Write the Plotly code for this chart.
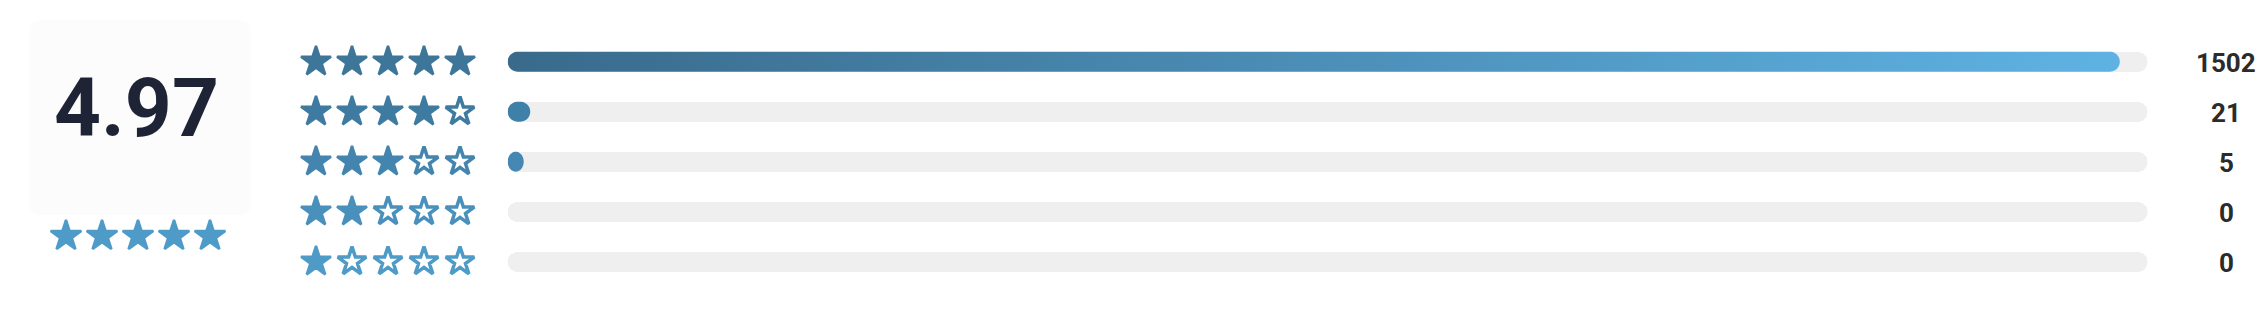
import numpy as np
import plotly.graph_objects as go

# ---------------- data ----------------
ratings = [5, 4, 3, 2, 1]
counts = [1502, 21, 5, 0, 0]
average = 4.97
count_labels = [str(c) for c in counts]

# ---------------- style ----------------
W, H = 2265, 334
TRACK_X0, TRACK_X1 = 507.7, 2147.7
TRACK_PX = TRACK_X1 - TRACK_X0
ROW0_Y, ROW_STEP = 61.7, 50.0
BAR_H = 20.0
BAR_R = 10.0
MIN_FILL_PX = 16.0
STAR_X0, STAR_STEP = 316.0, 36.0
SUM_X0 = 66.0
SUM_Y = 236.0
LABEL_X = 2226.0

star_colors = ['#3e7699', '#3f7ba0', '#4385ae', '#4991bc', '#4f9bc8']
fill_start_colors = ['#396a8b', '#3f80a8', '#4387b2', '#4790bd', '#4d99c6']
fill_end_color = '#5fb4e5'
track_color = '#efefef'
summary_star_color = '#4f9bc8'
text_color = '#1e2436'
label_color = '#2b2b2b'
FONT = 'Roboto'

total = sum(counts)
rows = list(range(len(ratings)))

fig = go.Figure()

# tracks
fig.add_trace(go.Bar(
    x=[total] * len(rows), y=rows, base=0, orientation='h',
    width=BAR_H / ROW_STEP, marker=dict(color=track_color, cornerradius=BAR_R, line=dict(width=0)),
    hoverinfo='skip', showlegend=False, xaxis='x', yaxis='y'))

# filled pills with gradient
units_per_px = total / TRACK_PX
for i, c in zip(rows, counts):
    if c <= 0:
        continue
    w_px = max(c / total * TRACK_PX, MIN_FILL_PX)
    r_px = min(BAR_R, w_px / 2)
    w = w_px * units_per_px
    rx = r_px * units_per_px
    ry = (BAR_H / 2) / ROW_STEP
    tl = np.linspace(np.pi / 2, 3 * np.pi / 2, 24)
    tr = np.linspace(-np.pi / 2, np.pi / 2, 24)
    xs = np.concatenate([rx + rx * np.cos(tl), (w - rx) + rx * np.cos(tr)])
    ys = np.concatenate([i - ry * np.sin(tl), i - ry * np.sin(tr)])
    xs = np.append(xs, xs[0]); ys = np.append(ys, ys[0])
    fig.add_trace(go.Scatter(
        x=xs, y=ys, mode='none', fill='toself',
        fillgradient=dict(type='horizontal',
                          colorscale=[[0, fill_start_colors[i]], [1, fill_end_color]],
                          start=0, stop=total),
        hoverinfo='skip', showlegend=False, xaxis='x', yaxis='y'))

# row stars
for i, r in zip(rows, ratings):
    pos = list(range(1, 6))
    filled = [p for p in pos if p <= r]
    empty = [p for p in pos if p > r]
    if filled:
        fig.add_trace(go.Scatter(
            x=filled, y=[i] * len(filled), mode='markers',
            marker=dict(symbol='star', size=22.5, color=star_colors[i],
                        line=dict(width=2.5, color=star_colors[i])),
            hoverinfo='skip', showlegend=False, xaxis='x2', yaxis='y'))
    if empty:
        fig.add_trace(go.Scatter(
            x=empty, y=[i] * len(empty), mode='markers',
            marker=dict(symbol='star-open', size=21.5, color=star_colors[i],
                        line=dict(width=3.5, color=star_colors[i])),
            hoverinfo='skip', showlegend=False, xaxis='x2', yaxis='y'))

# summary stars
n_sum = int(round(average))
fig.add_trace(go.Scatter(
    x=list(range(1, n_sum + 1)), y=[0.5] * n_sum, mode='markers',
    marker=dict(symbol='star', size=23, color=summary_star_color,
                line=dict(width=2.5, color=summary_star_color)),
    hoverinfo='skip', showlegend=False, xaxis='x3', yaxis='y3'))

# count labels
annotations = []
for i, lab in zip(rows, count_labels):
    annotations.append(dict(
        x=LABEL_X / W, xref='paper', y=i, yref='y', text=f'<b>{lab}</b>',
        showarrow=False, xanchor='center', yanchor='middle', yshift=-1.5,
        font=dict(family=FONT, size=26, color=label_color)))

annotations.append(dict(
    x=136 / W, xref='paper', y=(H - 107.5) / H, yref='paper', text=f'<b>{average:.2f}</b>',
    showarrow=False, xanchor='center', yanchor='middle',
    font=dict(family=FONT, size=82, color=text_color)))

# summary box (rounded)
bx0, bx1, by0, by1 = 30 / W, 250 / W, 1 - 215 / H, 1 - 20 / H
rxp, ryp = 10 / W, 10 / H
box_path = (f'M {bx0+rxp},{by0} L {bx1-rxp},{by0} Q {bx1},{by0} {bx1},{by0+ryp} '
            f'L {bx1},{by1-ryp} Q {bx1},{by1} {bx1-rxp},{by1} '
            f'L {bx0+rxp},{by1} Q {bx0},{by1} {bx0},{by1-ryp} '
            f'L {bx0},{by0+ryp} Q {bx0},{by0} {bx0+rxp},{by0} Z')

axis_off = dict(visible=False, showgrid=False, zeroline=False, fixedrange=True)
fig.update_layout(
    width=W, height=H, margin=dict(l=0, r=0, t=0, b=0),
    paper_bgcolor='white', plot_bgcolor='rgba(0,0,0,0)',
    showlegend=False, bargap=0,
    xaxis=dict(**axis_off, domain=[TRACK_X0 / W, TRACK_X1 / W], range=[0, total], anchor='y'),
    yaxis=dict(**axis_off, domain=[0, 1],
               range=[(H - ROW0_Y) / ROW_STEP, -ROW0_Y / ROW_STEP], anchor='x'),
    xaxis2=dict(**axis_off, domain=[(STAR_X0 - STAR_STEP / 2) / W, (STAR_X0 + 4.5 * STAR_STEP) / W],
                range=[0.5, 5.5], anchor='y'),
    xaxis3=dict(**axis_off, domain=[(SUM_X0 - STAR_STEP / 2) / W, (SUM_X0 + 4.5 * STAR_STEP) / W],
                range=[0.5, 5.5], anchor='y3'),
    yaxis3=dict(**axis_off, domain=[(H - SUM_Y - 20) / H, (H - SUM_Y + 20) / H],
                range=[0, 1], anchor='x3'),
    shapes=[dict(type='path', path=box_path, xref='paper', yref='paper',
                 fillcolor='#fcfcfd', line=dict(width=0), layer='below')],
    annotations=annotations,
    font=dict(family=FONT),
)

fig.write_html('out.html')
